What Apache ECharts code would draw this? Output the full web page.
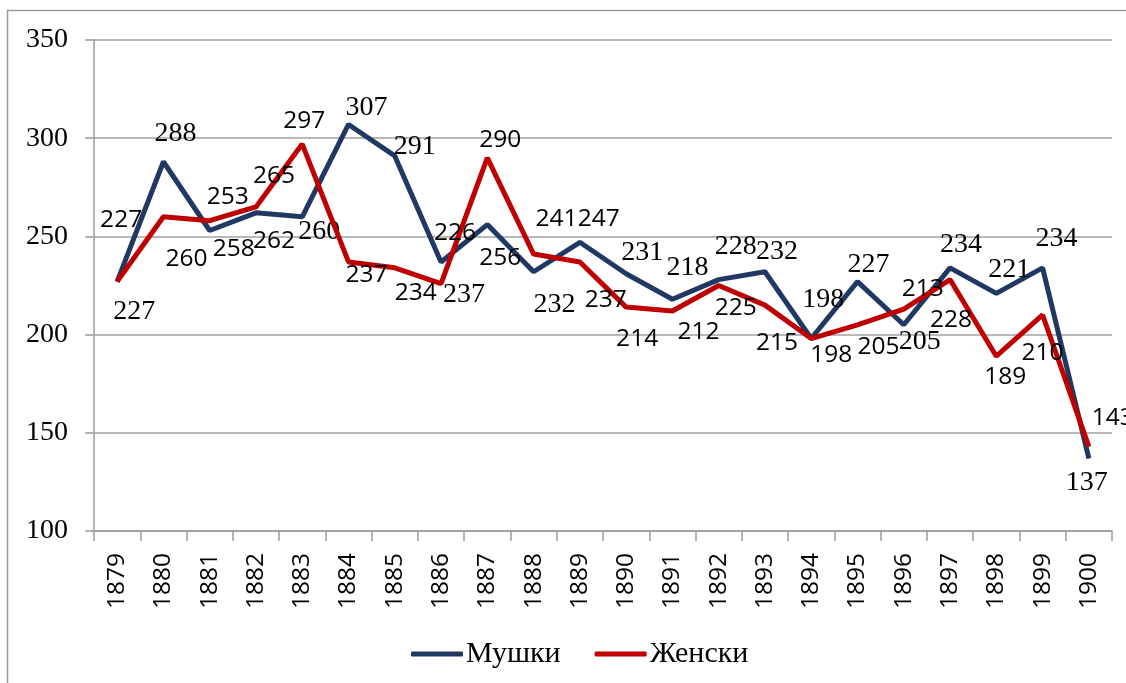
<!DOCTYPE html>
<html>
<head>
<meta charset="utf-8">
<script src="https://cdn.jsdelivr.net/npm/echarts@6/dist/echarts.min.js"></script>
<style>
  html, body { margin: 0; padding: 0; background: #fff; }
  #chart { width: 1126px; height: 683px; }
</style>
</head>
<body>
<div id="chart"></div>
<script>
// ---- data ----
const years = ['1879','1880','1881','1882','1883','1884','1885','1886','1887','1888','1889','1890','1891','1892','1893','1894','1895','1896','1897','1898','1899','1900'];
const male   = [227, 288, 253, 262, 260, 307, 291, 237, 256, 232, 247, 231, 218, 228, 232, 198, 227, 205, 234, 221, 234, 137];
const female = [227, 260, 258, 265, 297, 237, 234, 226, 290, 241, 237, 214, 212, 225, 215, 198, 205, 213, 228, 189, 210, 143];
const seriesNames = ['Мушки', 'Женски'];
const yTicks = [100, 150, 200, 250, 300, 350];

// ---- label placement (style, relative to each point) ----
const maleLabelShift = [[17,30],[12,-28],[18,-33],[18,28],[17,15],[18,-17],[20,-9],[23,33],[13,33],[21,33],[19,-23],[16,-21],[15,-32],[17,-33],[12,-20],[12,-39],[11,-17],[16,17],[11,-23],[13,-24],[14,-29],[-2,24]];
const femaleLabelShift = [[4,-62],[23,42],[24,28],[18,-31],[2,-23],[18,13],[21,25],[14,-51],[13,-18],[23,-35],[26,38],[11,32],[26,21],[17,23],[12,38],[20,16],[21,22],[19,-20],[1,40],[9,21],[0,38],[24,-29]];
const maleSansIdx = [2, 3, 8, 10];

const SERIF = { fontFamily: 'Liberation Serif', fontSize: 28 };
const SANS = { fontFamily: 'Open Sans', fontSize: 24.5 };

function buildData(values, shifts, sansIdx, allSans) {
  return values.map((v, i) => {
    const f = (allSans || sansIdx.indexOf(i) >= 0) ? SANS : SERIF;
    return {
      value: v,
      label: {
        show: true,
        position: 'inside',
        offset: shifts[i],
        color: '#000',
        fontFamily: f.fontFamily,
        fontSize: f.fontSize
      }
    };
  });
}

const chart = echarts.init(document.getElementById('chart'), null, { renderer: 'canvas' });
const option = {
  backgroundColor: '#fff',
  animation: false,
  graphic: [{
    type: 'rect',
    shape: { x: 7.5, y: 10.5, width: 1300, height: 900 },
    style: { fill: 'none', stroke: '#9a9a9a', lineWidth: 1.5 },
    silent: true,
    z: -10
  }],
  grid: { left: 94, right: 14, top: 40, bottom: 152, containLabel: false },
  legend: {
    data: seriesNames,
    left: 406,
    top: 634,
    itemWidth: 52,
    itemHeight: 5,
    itemGap: 34,
    icon: 'roundRect',
    textStyle: { fontFamily: 'Liberation Serif', fontSize: 30, color: '#000', padding: [0, 0, 0, -2] }
  },
  xAxis: {
    type: 'category',
    data: years,
    boundaryGap: true,
    axisLine: { show: true, lineStyle: { color: '#9a9a9a', width: 1.5 } },
    axisTick: { show: true, length: 10, alignWithLabel: false, inside: false, lineStyle: { color: '#9a9a9a', width: 1.5 } },
    axisLabel: { rotate: 90, margin: 22, color: '#000', fontFamily: 'Open Sans', fontSize: 24.5, interval: 0 },
    splitLine: { show: false }
  },
  yAxis: {
    type: 'value',
    min: yTicks[0],
    max: yTicks[yTicks.length - 1],
    interval: 50,
    axisLine: { show: true, lineStyle: { color: '#9a9a9a', width: 1.5 } },
    axisTick: { show: true, length: 9, lineStyle: { color: '#9a9a9a', width: 1.5 } },
    axisLabel: { margin: 26, color: '#000', fontFamily: 'Liberation Serif', fontSize: 28 },
    splitLine: { show: true, lineStyle: { color: '#a0a0a0', width: 1.5 } }
  },
  series: [
    {
      name: seriesNames[0],
      type: 'line',
      data: buildData(male, maleLabelShift, maleSansIdx, false),
      symbol: 'circle',
      symbolSize: 1,
      showSymbol: true,
      lineStyle: { color: '#1f3864', width: 5 },
      itemStyle: { color: '#1f3864' },
      z: 3
    },
    {
      name: seriesNames[1],
      type: 'line',
      data: buildData(female, femaleLabelShift, [], true),
      symbol: 'circle',
      symbolSize: 1,
      showSymbol: true,
      lineStyle: { color: '#c00000', width: 5 },
      itemStyle: { color: '#c00000' },
      z: 4
    }
  ]
};
chart.setOption(option);
</script>
</body>
</html>
